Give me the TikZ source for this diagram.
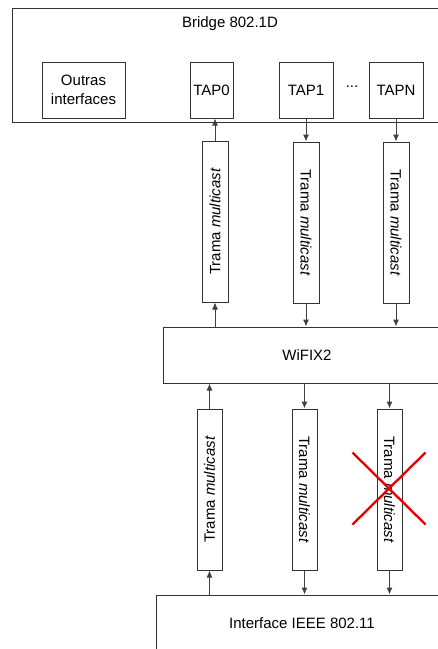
\documentclass[tikz,border=0pt]{standalone}
\usepackage{fontspec}
\setmainfont{Liberation Sans}
\usepackage{graphicx}
\usetikzlibrary{arrows.meta, positioning}

\newcommand{\tramaup}{\rotatebox{90}{Trama \textit{multicast}}}
\newcommand{\tramadown}{\rotatebox{-90}{Trama \textit{multicast}}}

\begin{document}
\begin{tikzpicture}[x=1pt, y=-1pt,
font=\fontsize{15}{18.5}\selectfont,
blank/.style={inner sep=0pt},
block/.style={rectangle, align=center, draw=black!80, line width=1pt, inner sep=0pt},
block-main/.style={block, minimum height=56pt},
block-tap/.style={block, minimum width=54pt, minimum height=56pt},
block-frame/.style={block, minimum width=26pt, minimum height=161pt},
line/.style={draw=black!75, line width=1pt, -{Latex[length=7pt, width=6pt]}},
cross/.style={draw=red!90!black, line width=2.3pt}
]
\useasboundingbox (0,0) rectangle (438,649);
\clip (0,0) rectangle (438,649);

% bridge and its interfaces
\node [block, minimum width=436pt, minimum height=114pt] (bridge) at (230,65) {};
\node [blank] (bridge-name) at (230,24) {Bridge 802.1D};
\node [block-tap, minimum width=83pt] (outras) at (83.5,90) {Outras\\interfaces};
\node [block-tap, minimum width=43pt] (tap0) at (211.5,90) {TAP0};
\node [block-tap] (tap1) at (306,90) {TAP1};
\node [block-tap] (tapn) at (396,90) {TAPN};
\node [blank] (dots) at (352,87) {...};

% frames between bridge and WiFIX2
\node [block-frame] (up-a) at (215,221.5) {\tramaup};
\node [block-frame, below=23pt of tap1] (up-b) {\tramadown};
\node [block-frame, below=23pt of tapn] (up-c) {\tramadown};

\node [block-main, minimum width=288pt] (wifix) at (307,355) {WiFIX2};

% frames between WiFIX2 and the 802.11 interface
\node [block-frame, minimum width=25pt] (low-a) at (209.5,489.5) {\tramaup};
\node [block-frame, minimum width=25pt] (low-b) at (304.5,489.5) {\tramadown};
\node [block-frame, minimum width=25pt] (low-c) at (389.5,489.5) {\tramadown};

\node [block-main, minimum width=292pt] (iface) at (302,623) {Interface IEEE 802.11};

\path [line] (up-a.north) -- (up-a.north |- tap0.south);
\path [line] (up-a.south |- wifix.north) -- (up-a.south);
\path [line] (tap1.south) -- (up-b.north);
\path [line] (up-b.south) -- (up-b.south |- wifix.north);
\path [line] (tapn.south) -- (tapn.south |- up-c.north);
\path [line] (up-c.south) -- (up-c.south |- wifix.north);

\path [line] (low-a.north) -- (low-a.north |- wifix.south);
\path [line] (low-a.south |- iface.north) -- (low-a.south);
\path [line] (low-b.north |- wifix.south) -- (low-b.north);
\path [line] (low-b.south) -- (low-b.south |- iface.north);
\path [line] (low-c.north |- wifix.south) -- (low-c.north);
\path [line] (low-c.south) -- (low-c.south |- iface.north);

% dropped frame
\draw [cross] ([shift={(-37,-37)}]low-c.center) -- ([shift={(36,35)}]low-c.center);
\draw [cross] ([shift={(36,-37)}]low-c.center) -- ([shift={(-37,35)}]low-c.center);

\end{tikzpicture}
\end{document}
